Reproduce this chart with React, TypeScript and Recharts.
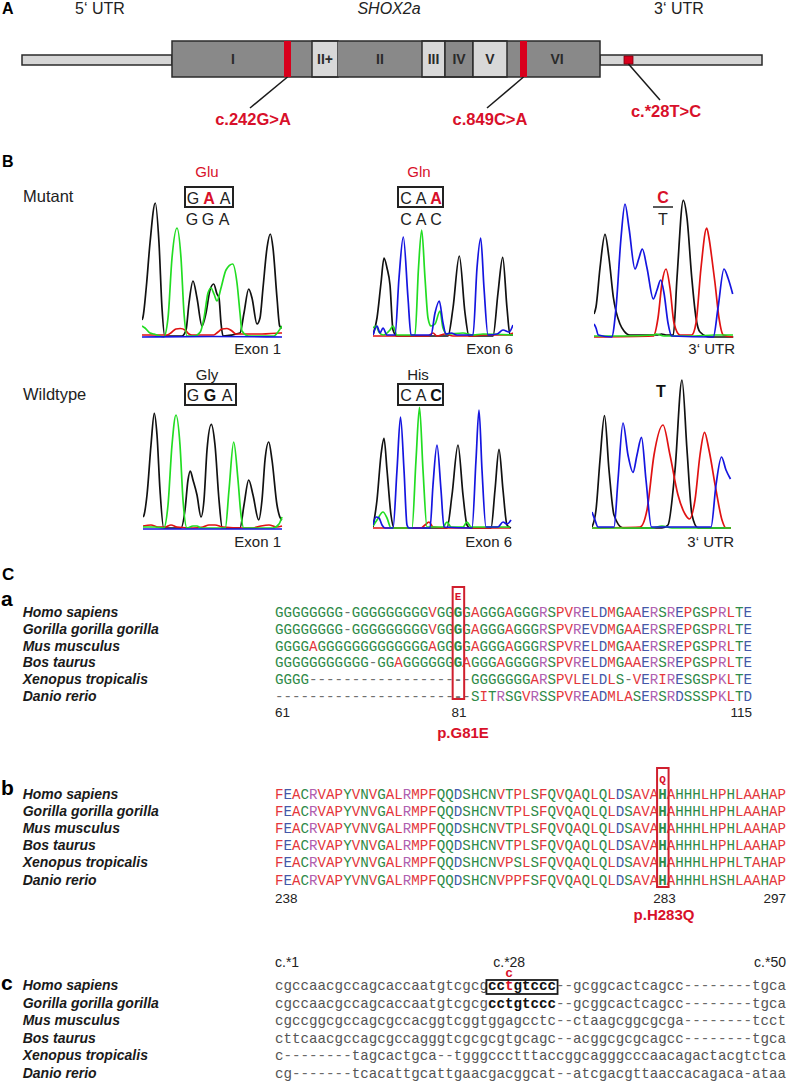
import React from "react";
import { ComposedChart, LineChart, Line, Scatter, XAxis, YAxis, ReferenceArea, ReferenceLine } from "recharts";

// ---------- Panel A: SHOX2a gene model (positions along the drawing) ----------
const utrSpans: [number, number][] = [[22, 172], [600, 762]];
const exonLabels = ["I", "II+", "II", "III", "IV", "V", "VI"];
const exonStarts = [172, 312, 338, 422, 445, 473, 514];
const exonEnds = [294, 338, 422, 445, 473, 507, 600];
const exonLight = [false, true, false, true, false, true, false];
const exonBorder = [false, true, false, true, true, true, false];
const mutSpans: [number, number][] = [[284, 291], [520, 527], [624, 633]];
const mutTop = [41, 41, 56];
const mutBottom = [77, 77, 64];
const mutLabels = ["c.242G>A", "c.849C>A", "c.*28T>C"];
const leaderEnds: [number, number][] = [[250, 108], [487, 108], [660, 100]];
const mutLabelX = [253, 490, 666];
const mutLabelY = [119, 119, 111];

// ---------- Panel B: chromatogram traces, [scan, signal] ----------
// mutant, exon 1
const m1G: [number, number][] = [[0, 18], [1, 21], [4.3, 51], [8, 95], [13.3, 135], [17, 95], [20, 30], [22.7, 2], [40, 2], [44, 8], [47, 35], [51, 57], [55, 40], [60, 12], [64, 25], [68, 48], [71.7, 54], [75, 44], [77, 40], [79, 15], [81, 2], [98, 5], [102, 25], [106.7, 49], [110, 40], [115, 14], [118, 20], [121, 50], [125, 90], [128.3, 104], [131, 90], [135, 40], [137.7, 12], [140, 10]];
const m1A: [number, number][] = [[0, 12], [3, 10], [8, 5], [12, 4], [21.7, 1], [26, 20], [30, 80], [35, 110], [39, 80], [42, 25], [45, 2], [52, 2], [58.3, 6], [62, 20], [66, 45], [69, 50], [72, 44], [75, 37], [79, 50], [84, 68], [90.7, 74], [95, 55], [98, 25], [100, 7], [106.7, 2], [131.7, 2], [136, 6], [140, 12]];
const m1T: [number, number][] = [[0, 3], [25, 3], [30, 6], [34, 9], [38.3, 9.5], [43, 8], [47, 4], [50, 3], [71.7, 3], [76, 6], [80, 9], [85, 9.5], [90, 7], [94, 4], [98.3, 4], [120, 4], [138.3, 5], [140, 5]];
const m1C: [number, number][] = [[0, 1], [70, 1.5], [140, 1]];
// mutant, exon 6
const m2G: [number, number][] = [[0, 3], [4, 20], [8, 55], [11, 80], [14, 70], [17, 53], [20, 8], [24, 2], [75, 2], [80, 30], [86.3, 82], [92, 25], [96, 2], [120, 2], [125, 45], [129.7, 80.7], [134, 30], [137, 3], [140, 3]];
const m2A: [number, number][] = [[0, 10], [3, 12], [6, 6], [10, 3], [17, 8], [20, 12], [24, 3], [42, 3], [45.5, 70], [48.7, 108], [52, 60], [55, 20], [58, 12], [62, 14], [67, 27], [70, 10], [74, 4], [90, 5], [100, 3], [110, 4], [140, 3]];
const m2T: [number, number][] = [[0, 2], [55, 2], [60, 5], [64, 2], [72, 4], [80, 2], [100, 2], [110, 3], [135, 3], [140, 5]];
const m2C: [number, number][] = [[0, 3], [4, 12], [7, 5], [10, 10], [14, 3], [22, 3], [26, 60], [30.3, 101], [35, 40], [38, 3], [58, 3], [62, 25], [66.3, 37], [70, 15], [73, 4], [78, 5], [84, 3], [100, 3], [104, 70], [107.7, 100], [111, 50], [115, 3], [124, 4], [130, 8], [136, 6], [140, 13]];
// mutant, 3' UTR
const m3G: [number, number][] = [[0, 24], [2, 31], [6, 70], [11, 103.7], [15, 80], [19.3, 41], [26, 14], [30, 7], [36, 3], [62.7, 3], [67.6, 4], [72, 3], [79.3, 3], [83, 60], [89.3, 137.7], [93, 120], [97.7, 61], [102, 20], [106, 6], [116, 1], [139.3, 1]];
const m3A: [number, number][] = [[0, 2], [30, 2], [60, 3], [62, 4], [70, 2], [100, 2], [120, 3], [139, 3]];
const m3T: [number, number][] = [[0, 1], [59.3, 2], [64, 20], [68, 55], [72, 69], [76, 50], [80, 15], [86, 3], [97.7, 3], [102, 15], [107, 70], [112.7, 110], [115, 100], [117.7, 81], [121, 55], [125, 20], [129.3, 3], [139, 1]];
const m3C: [number, number][] = [[0, 14], [2, 10], [4.3, 3], [17.7, 1], [22, 30], [27, 100], [31, 134], [35, 110], [41, 69], [45, 80], [48.3, 89], [53, 70], [59.3, 39], [63, 48], [66.7, 58], [70, 45], [74, 15], [77.7, 2], [119.3, 1], [124, 30], [130, 69], [134, 60], [138.7, 44]];
// wildtype, exon 1
const w1G: [number, number][] = [[0, 13], [0.7, 14], [4, 35], [8, 85], [11.3, 116.7], [14, 95], [17, 40], [20.7, 2], [38, 2], [42, 20], [45, 50], [47.3, 59], [50, 50], [54, 35], [58, 13], [61, 30], [64, 80], [68.3, 105.7], [72, 85], [76, 30], [79.3, 2], [97, 2], [101, 25], [105.7, 50], [110, 35], [115.7, 10], [119, 30], [122, 70], [125.7, 88], [129, 70], [134, 25], [137.3, 12], [139, 10]];
const w1A: [number, number][] = [[0, 3], [12, 3], [20.7, 2], [25, 25], [29, 85], [33, 115], [37, 85], [40, 30], [44, 2], [50, 4], [54, 4], [58, 2], [82.3, 2], [86, 40], [90.7, 88], [95, 50], [98, 15], [100.7, 2], [130, 2], [136, 6], [139, 13]];
const w1T: [number, number][] = [[0, 4], [8, 5], [15, 3], [22, 3], [28, 5], [34, 3], [50, 2], [60, 3], [66, 5], [72, 5], [80, 3], [100, 2], [110, 2], [118, 4], [126, 5], [134, 3], [139, 4]];
const w1C: [number, number][] = [[0, 1], [139, 1]];
// wildtype, exon 6
const w2G: [number, number][] = [[0, 3], [4, 30], [8, 75], [11, 91.7], [14, 60], [18, 15], [21, 2], [74, 2], [79, 35], [85, 85], [90, 35], [94, 5], [97, 2], [118, 2], [122, 40], [126, 80.7], [130, 40], [134, 5], [138, 2]];
const w2A: [number, number][] = [[0, 4], [4, 10], [10, 18], [14, 12], [18, 2], [39, 2], [43, 70], [46.5, 122.7], [50, 60], [54, 3], [70, 3], [74, 8], [78, 3], [90, 3], [94, 8], [98, 3], [137, 3]];
const w2T: [number, number][] = [[0, 2], [48, 2], [52, 5], [56, 8], [60, 3], [72, 2], [100, 2], [137, 2]];
const w2C: [number, number][] = [[0, 5], [3, 13], [6, 12], [9, 5], [12, 2], [20, 2], [24, 60], [27.5, 113], [31, 60], [34, 5], [36, 2], [57, 2], [60, 45], [64, 85], [68, 40], [71, 3], [99, 2], [103, 70], [106, 120], [109, 60], [113, 3], [125, 3], [130, 8], [134, 6], [138, 10]];
// wildtype, 3' UTR
const w3G: [number, number][] = [[0, 3], [4, 20], [8, 70], [12.5, 114.3], [17, 60], [22, 15], [31, 2], [70, 2], [76, 5], [83, 60], [90, 150], [95, 80], [100, 15], [106, 2], [139, 2]];
const w3A: [number, number][] = [[0, 2], [60, 2], [70, 4], [80, 2], [139, 2]];
const w3T: [number, number][] = [[0, 2], [48, 3], [55, 20], [62, 75], [71, 105], [78, 75], [86, 35], [93, 16], [97.5, 11], [103, 30], [108, 75], [112.5, 97.7], [117, 80], [124, 40], [130, 10], [134, 2], [139, 2]];
const w3C: [number, number][] = [[0, 18], [3, 10], [6, 3], [22, 3], [26, 50], [31, 107], [36, 75], [41, 57.7], [45, 75], [49.5, 92.7], [54, 50], [59.5, 3], [115, 3], [119, 3], [124, 45], [129.5, 73], [134, 60], [138.5, 51]];

// ---------- Panel C: alignments ----------
const species = ["Homo sapiens", "Gorilla gorilla gorilla", "Mus musculus", "Bos taurus", "Xenopus tropicalis", "Danio rerio"];
const seqAPre = ["GGGGGGGG-GGGGGGGGGVGG", "GGGGGGGG-GGGGGGGGGVGG", "GGGGAGGGGGGGGGGGGGAGG", "GGGGGGGGGGG-GGAGGGGGG", "GGGG-----------------", "---------------------"];
const seqABox = ["G", "G", "G", "G", "-", "-"];
const seqAPost = ["GAGGGAGGGRSPVRELDMGAAERSREPGSPRLTE", "GAGGGAGGGRSPVREVDMGAAERSREPGSPRLTE", "GAGGGAGGGRSPVRELDMGAAERSREPGSPRLTE", "AGGGAGGGGRSPVRELDMGAAERSREPGSPRLTE", "-GGGGGGGARSPVLELDLS-VERIRESGSPKLTE", "-SITRSGVRSSPVREADMLASERSRDSSSPKLTD"];
const seqB = [
  "FEACRVAPYVNVGALRMPFQQDSHCNVTPLSFQVQAQLQLDSAVAHAHHHLHPHLAAHAP",
  "FEACRVAPYVNVGALRMPFQQDSHCNVTPLSFQVQAQLQLDSAVAHAHHHLHPHLAAHAP",
  "FEACRVAPYVNVGALRMPFQQDSHCNVTPLSFQVQAQLQLDSAVAHAHHHLHPHLAAHAP",
  "FEACRVAPYVNVGALRMPFQQDSHCNVTPLSFQVQAQLQLDSAVAHAHHHLHPHLAAHAP",
  "FEACRVAPYVNVGALRMPFQQDSHCNVPSLSFQVQAQLQLDSAVAHAHHHLHPHLTAHAP",
  "FEACRVAPYVNVGALRMPFQQDSHCNVPPFSFQVQAQLQLDSAVAHAHHHLHSHLAAHAP",
];
const seqC = [
  "cgccaacgccagcaccaatgtcgcgcctgtccc--gcggcactcagcc--------tgca",
  "cgccaacgccagcaccaatgtcgcgcctgtccc--gcggcactcagcc--------tgca",
  "cgccggcgccagcgccacggtcggtggagcctc--ctaagcggcgcga--------tcct",
  "cttcaacgccagcgccagggtcgcgcgtgcagc--acggcgcgcagcc--------tgca",
  "c--------tagcactgca--tgggccctttaccggcagggcccaacagactacgtctca",
  "cg-------tcacattgcattgaacgacggcat--atcgacgttaaccacagaca-ataa",
];

const SANS = "'Liberation Sans', Arial, Helvetica, sans-serif";
const MONO = "'Liberation Mono', 'DejaVu Sans Mono', monospace";
const CW = 8.517;
const SEQ_X = 275;
const TRACE_W = 140;
const TRACE_H = 155;
const RED = "#d8102a";

const resColor = (ch: string) => {
  if ("AVFPMILW".includes(ch)) return "#e4363b";
  if ("DE".includes(ch)) return "#4458a8";
  if ("RK".includes(ch)) return "#b060b0";
  if ("STYHCNGQ".includes(ch)) return "#2e8a48";
  return "#707070";
};

const toData = (pts: [number, number][]) => pts.map(([x, y]) => ({ x, y }));

function Trace({ left, base, g, a, t, c }: { left: number; base: number; g: [number, number][]; a: [number, number][]; t: [number, number][]; c: [number, number][] }) {
  const series = [
    { key: "G", pts: g, color: "#111111" },
    { key: "T", pts: t, color: "#e01212" },
    { key: "A", pts: a, color: "#22dd22" },
    { key: "C", pts: c, color: "#1515e0" },
  ];
  return (
    <div style={{ position: "absolute", left, top: base - TRACE_H }}>
      <LineChart width={TRACE_W} height={TRACE_H} margin={{ top: 0, right: 0, bottom: 0, left: 0 }}>
        <XAxis type="number" dataKey="x" domain={[0, TRACE_W]} hide />
        <YAxis type="number" dataKey="y" domain={[0, TRACE_H]} hide />
        {series.map((s) => (
          <Line key={s.key} data={toData(s.pts)} dataKey="y" type="monotone" stroke={s.color} strokeWidth={1.7} dot={false} isAnimationActive={false} />
        ))}
      </LineChart>
    </div>
  );
}

function SeqRow({ seq, y, boldFrom = -1, boldTo = -1, mono = false, redAt = -1 }: { seq: string; y: number; boldFrom?: number; boldTo?: number; mono?: boolean; redAt?: number }) {
  return (
    <text y={y} fontFamily={MONO} fontSize={14.2}>
      {seq.split("").map((ch, i) => {
        const bold = i >= boldFrom && i <= boldTo;
        let fill = mono ? (ch === "-" ? "#6a6a6a" : "#555555") : resColor(ch);
        if (mono && bold) fill = "#111";
        if (i === redAt) fill = RED;
        return (
          <tspan key={i} x={SEQ_X + i * CW} fill={fill} fontWeight={bold ? "bold" : "normal"}>
            {ch}
          </tspan>
        );
      })}
    </text>
  );
}

function Codon({ cx, y, letters, strong, strongColor }: { cx: number[]; y: number; letters: string[]; strong: number; strongColor: string }) {
  return (
    <>
      {letters.map((l, i) => (
        <text key={i} x={cx[i]} y={y} textAnchor="middle" fontFamily={SANS} fontSize={16} fontWeight={i === strong ? "bold" : "normal"} fill={i === strong ? strongColor : "#222"}>
          {l}
        </text>
      ))}
    </>
  );
}

const exonPoints = exonLabels.map((label, i) => ({ x: (exonStarts[i] + exonEnds[i]) / 2, y: 59, label }));
const mutPoints = mutLabels.map((label, i) => ({ x: mutLabelX[i], y: mutLabelY[i], label }));

const ExonLabel = (p: any) => (
  <text x={p.cx} y={p.cy} textAnchor="middle" dominantBaseline="central" fontFamily={SANS} fontSize={14} fontWeight="bold" fill="#2a2a2a">
    {p.payload.label}
  </text>
);
const MutLabel = (p: any) => (
  <text x={p.cx} y={p.cy} textAnchor="middle" dominantBaseline="central" fontFamily={SANS} fontSize={16.5} fontWeight="bold" fill={RED}>
    {p.payload.label}
  </text>
);

function GeneModel() {
  return (
    <div style={{ position: "absolute", left: 0, top: 0 }}>
      <ComposedChart width={787} height={130} margin={{ top: 0, right: 0, bottom: 0, left: 0 }} data={exonPoints}>
        <XAxis type="number" dataKey="x" domain={[0, 787]} hide allowDataOverflow />
        <YAxis type="number" dataKey="y" domain={[0, 130]} reversed hide allowDataOverflow />
        {utrSpans.map(([s, e], i) => (
          <ReferenceArea key={"u" + i} x1={s} x2={e} y1={55} y2={65} fill="#d6d6d6" fillOpacity={1} stroke="#2b2b2b" strokeWidth={1.5} />
        ))}
        <ReferenceArea x1={172} x2={600} y1={41} y2={77} fill="#898989" fillOpacity={1} stroke="none" />
        {exonLabels.map((lab, i) => (
          <ReferenceArea
            key={"e" + i}
            x1={exonStarts[i]}
            x2={exonEnds[i]}
            y1={41}
            y2={77}
            fill={exonLight[i] ? "#d8d8d8" : "#898989"}
            fillOpacity={1}
            stroke={exonBorder[i] ? "#2b2b2b" : "none"}
            strokeWidth={1.5}
          />
        ))}
        <ReferenceArea x1={172} x2={600} y1={41} y2={77} fill="none" fillOpacity={0} stroke="#2b2b2b" strokeWidth={1.5} />
        {mutSpans.map(([s, e], i) => (
          <ReferenceArea key={"m" + i} x1={s} x2={e} y1={mutTop[i]} y2={mutBottom[i]} fill="#d8001c" fillOpacity={1} stroke={i === 2 ? "#7a0010" : "none"} strokeWidth={0.8} />
        ))}
        {mutSpans.map(([s, e], i) => (
          <ReferenceLine
            key={"l" + i}
            segment={[{ x: (s + e) / 2, y: mutBottom[i] }, { x: leaderEnds[i][0], y: leaderEnds[i][1] }]}
            stroke="#1a1a1a"
            strokeWidth={1.5}
          />
        ))}
        <Scatter data={exonPoints} dataKey="y" shape={ExonLabel} isAnimationActive={false} />
        <Scatter data={mutPoints} dataKey="y" shape={MutLabel} isAnimationActive={false} />
      </ComposedChart>
    </div>
  );
}

export default function App() {
  const aBase = 617, aStep = 16.8;
  const bBase = 799, bStep = 17.1;
  const cBase = 990, cStep = 17.5;
  const colX = (i: number) => SEQ_X + i * CW;
  return (
    <div style={{ position: "absolute", left: 0, top: 0, width: 787, height: 1082, background: "#fff", overflow: "hidden" }}>
      <GeneModel />

      <Trace left={141.7} base={337.5} g={m1G} a={m1A} t={m1T} c={m1C} />
      <Trace left={373} base={337.5} g={m2G} a={m2A} t={m2T} c={m2C} />
      <Trace left={594} base={337.5} g={m3G} a={m3A} t={m3T} c={m3C} />
      <Trace left={143} base={529.5} g={w1G} a={w1A} t={w1T} c={w1C} />
      <Trace left={372.5} base={529.5} g={w2G} a={w2A} t={w2T} c={w2C} />
      <Trace left={591.5} base={529.5} g={w3G} a={w3A} t={w3T} c={w3C} />

      <svg width={787} height={1082} style={{ position: "absolute", left: 0, top: 0, pointerEvents: "none" }}>
        {/* Panel A text */}
        <text x={2} y={14} fontFamily={SANS} fontSize={16} fontWeight="bold">A</text>
        <text x={100} y={14} textAnchor="middle" fontFamily={SANS} fontSize={16} fill="#222">5‘ UTR</text>
        <text x={389} y={14} textAnchor="middle" fontFamily={SANS} fontSize={16} fontStyle="italic" fill="#222">SHOX2a</text>
        <text x={679} y={14} textAnchor="middle" fontFamily={SANS} fontSize={16} fill="#222">3‘ UTR</text>

        {/* Panel B text */}
        <text x={2} y={167} fontFamily={SANS} fontSize={16} fontWeight="bold">B</text>
        <text x={23} y={202} fontFamily={SANS} fontSize={16.5} fill="#222">Mutant</text>
        <text x={23} y={400} fontFamily={SANS} fontSize={16.5} fill="#222">Wildtype</text>

        <text x={207} y={177} textAnchor="middle" fontFamily={SANS} fontSize={15} fill={RED}>Glu</text>
        <rect x={185} y={187} width={48} height={20} fill="none" stroke="#222" strokeWidth={2} />
        <Codon cx={[193, 209, 225]} y={203.5} letters={["G", "A", "A"]} strong={1} strongColor={RED} />
        <Codon cx={[192, 208, 224]} y={225} letters={["G", "G", "A"]} strong={-1} strongColor="#222" />

        <text x={419} y={177} textAnchor="middle" fontFamily={SANS} fontSize={15} fill={RED}>Gln</text>
        <rect x={398} y={187} width={45} height={20} fill="none" stroke="#222" strokeWidth={2} />
        <Codon cx={[406, 421, 436]} y={203.5} letters={["C", "A", "A"]} strong={2} strongColor={RED} />
        <Codon cx={[406, 421, 436]} y={225} letters={["C", "A", "C"]} strong={-1} strongColor="#222" />

        <text x={663} y={203} textAnchor="middle" fontFamily={SANS} fontSize={16} fontWeight="bold" fill={RED}>C</text>
        <line x1={653} x2={673} y1={207} y2={207} stroke="#222" strokeWidth={1.5} />
        <text x={663} y={225} textAnchor="middle" fontFamily={SANS} fontSize={16} fill="#222">T</text>

        <text x={207} y={380} textAnchor="middle" fontFamily={SANS} fontSize={15} fill="#222">Gly</text>
        <rect x={185} y={384} width={51} height={21} fill="none" stroke="#222" strokeWidth={2} />
        <Codon cx={[193, 210, 227]} y={401} letters={["G", "G", "A"]} strong={1} strongColor="#111" />

        <text x={418} y={380} textAnchor="middle" fontFamily={SANS} fontSize={15} fill="#222">His</text>
        <rect x={398} y={384} width={45} height={21} fill="none" stroke="#222" strokeWidth={2} />
        <Codon cx={[406, 421, 436]} y={401} letters={["C", "A", "C"]} strong={2} strongColor="#111" />

        <text x={661} y={397} textAnchor="middle" fontFamily={SANS} fontSize={16} fontWeight="bold" fill="#111">T</text>

        <text x={281} y={354} textAnchor="end" fontFamily={SANS} fontSize={15} fill="#222">Exon 1</text>
        <text x={513} y={354} textAnchor="end" fontFamily={SANS} fontSize={15} fill="#222">Exon 6</text>
        <text x={735} y={354} textAnchor="end" fontFamily={SANS} fontSize={15} fill="#222">3‘ UTR</text>
        <text x={281} y={547} textAnchor="end" fontFamily={SANS} fontSize={15} fill="#222">Exon 1</text>
        <text x={512} y={547} textAnchor="end" fontFamily={SANS} fontSize={15} fill="#222">Exon 6</text>
        <text x={734} y={547} textAnchor="end" fontFamily={SANS} fontSize={15} fill="#222">3‘ UTR</text>

        {/* Panel C */}
        <text x={2} y={580} fontFamily={SANS} fontSize={17} fontWeight="bold">C</text>

        {/* a */}
        <text x={1} y={606} fontFamily={SANS} fontSize={21} fontWeight="bold">a</text>
        {species.map((s, i) => (
          <text key={"sa" + i} x={22.7} y={aBase + i * aStep} fontFamily={SANS} fontSize={14} fontWeight="bold" fontStyle="italic" fill="#1a1a1a">{s}</text>
        ))}
        {seqAPre.map((p, i) => (
          <SeqRow key={"qa" + i} seq={p + seqABox[i] + seqAPost[i]} y={aBase + i * aStep} boldFrom={21} boldTo={21} />
        ))}
        <rect x={colX(21) - 1.2} y={587} width={CW + 3} height={112} fill="none" stroke="#d01f2e" strokeWidth={2} />
        <text x={colX(21) + CW / 2} y={600} textAnchor="middle" fontFamily={MONO} fontSize={11} fontWeight="bold" fill={RED}>E</text>
        <text x={SEQ_X} y={717} fontFamily={SANS} fontSize={13.5} fill="#222">61</text>
        <text x={colX(21) + CW / 2 + 1} y={717} textAnchor="middle" fontFamily={SANS} fontSize={13.5} fill="#222">81</text>
        <text x={colX(56)} y={717} textAnchor="end" fontFamily={SANS} fontSize={13.5} fill="#222">115</text>
        <text x={463} y={738} textAnchor="middle" fontFamily={SANS} fontSize={15} fontWeight="bold" fill={RED}>p.G81E</text>

        {/* b */}
        <text x={1} y={795} fontFamily={SANS} fontSize={21} fontWeight="bold">b</text>
        {species.map((s, i) => (
          <text key={"sb" + i} x={22.7} y={bBase + i * bStep} fontFamily={SANS} fontSize={14} fontWeight="bold" fontStyle="italic" fill="#1a1a1a">{s}</text>
        ))}
        {seqB.map((q, i) => (
          <SeqRow key={"qb" + i} seq={q} y={bBase + i * bStep} boldFrom={45} boldTo={45} />
        ))}
        <rect x={colX(45) - 1.2} y={768} width={CW + 3} height={119} fill="none" stroke="#d01f2e" strokeWidth={2} />
        <text x={colX(45) + CW / 2} y={783} textAnchor="middle" fontFamily={MONO} fontSize={11} fontWeight="bold" fill={RED}>Q</text>
        <text x={SEQ_X} y={903} fontFamily={SANS} fontSize={13.5} fill="#222">238</text>
        <text x={colX(45) + CW / 2 + 2} y={903} textAnchor="middle" fontFamily={SANS} fontSize={13.5} fill="#222">283</text>
        <text x={colX(60)} y={903} textAnchor="end" fontFamily={SANS} fontSize={13.5} fill="#222">297</text>
        <text x={664} y={920} textAnchor="middle" fontFamily={SANS} fontSize={15} fontWeight="bold" fill={RED}>p.H283Q</text>

        {/* c */}
        <text x={1} y={990} fontFamily={SANS} fontSize={21} fontWeight="bold">c</text>
        <text x={SEQ_X} y={967} fontFamily={SANS} fontSize={14} fill="#222">c.*1</text>
        <text x={colX(27) + CW / 2} y={967} textAnchor="middle" fontFamily={SANS} fontSize={14} fill="#222">c.*28</text>
        <text x={colX(60)} y={967} textAnchor="end" fontFamily={SANS} fontSize={14} fill="#222">c.*50</text>
        <text x={colX(27) + CW / 2} y={976.5} textAnchor="middle" fontFamily={MONO} fontSize={13} fontWeight="bold" fill={RED}>c</text>
        {species.map((s, i) => (
          <text key={"sc" + i} x={22.7} y={cBase + i * cStep} fontFamily={SANS} fontSize={14} fontWeight="bold" fontStyle="italic" fill="#1a1a1a">{s}</text>
        ))}
        {seqC.map((q, i) => (
          <SeqRow key={"qc" + i} seq={q} y={cBase + i * cStep} mono boldFrom={i < 2 ? 25 : -1} boldTo={i < 2 ? 32 : -1} redAt={i === 0 ? 27 : -1} />
        ))}
        <rect x={colX(25) - 1.5} y={980} width={8 * CW + 3} height={14} fill="none" stroke="#1a1a1a" strokeWidth={1.8} />
      </svg>
    </div>
  );
}
